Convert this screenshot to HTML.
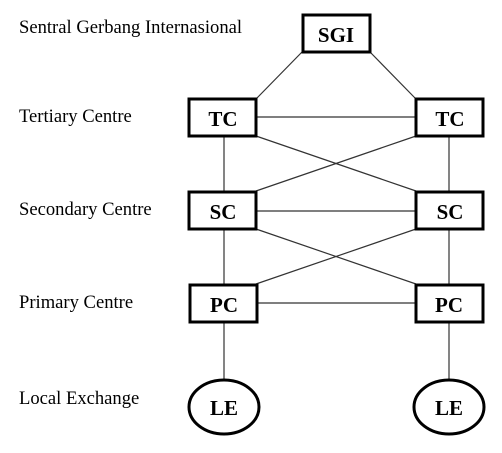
<!DOCTYPE html>
<html><head><style>body{margin:0;background:#fff}</style></head><body>
<svg width="502" height="448" xmlns="http://www.w3.org/2000/svg" font-family="Liberation Serif, serif">
<g fill="#000" font-size="18.6">
<text x="19" y="33">Sentral Gerbang Internasional</text>
<text x="19" y="122">Tertiary Centre</text>
<text x="19" y="215">Secondary Centre</text>
<text x="19" y="308">Primary Centre</text>
<text x="19" y="404">Local Exchange</text>
</g>
<g stroke="#333" stroke-width="1.2" fill="none">
<line x1="302" y1="52" x2="257" y2="98"/>
<line x1="370" y1="52" x2="415" y2="98"/>
<line x1="256" y1="117" x2="416" y2="117"/>
<line x1="256" y1="136" x2="416" y2="191"/>
<line x1="416" y1="136" x2="256" y2="191"/>
<line x1="256" y1="211" x2="416" y2="211"/>
<line x1="256" y1="229" x2="416" y2="284"/>
<line x1="416" y1="229" x2="256" y2="284"/>
<line x1="256" y1="303" x2="416" y2="303"/>
<line x1="224" y1="136" x2="224" y2="380"/>
<line x1="449" y1="136" x2="449" y2="380"/>
</g>
<g stroke="#000" stroke-width="3" fill="#fff">
<rect x="303" y="15" width="67" height="37"/>
<rect x="189" y="99" width="67" height="37"/>
<rect x="416" y="99" width="67" height="37"/>
<rect x="189" y="192" width="67" height="37"/>
<rect x="416" y="192" width="67" height="37"/>
<rect x="190" y="285" width="67" height="37"/>
<rect x="416" y="285" width="67" height="37"/>
<ellipse cx="224" cy="407" rx="35" ry="27"/>
<ellipse cx="449" cy="407" rx="35" ry="27"/>
</g>
<g fill="#000" font-size="21" font-weight="bold" text-anchor="middle">
<text x="336" y="42">SGI</text>
<text x="223" y="126">TC</text>
<text x="450" y="126">TC</text>
<text x="223" y="219">SC</text>
<text x="450" y="219">SC</text>
<text x="224" y="312">PC</text>
<text x="449" y="312">PC</text>
<text x="224" y="415">LE</text>
<text x="449" y="415">LE</text>
</g>
</svg>
</body></html>
